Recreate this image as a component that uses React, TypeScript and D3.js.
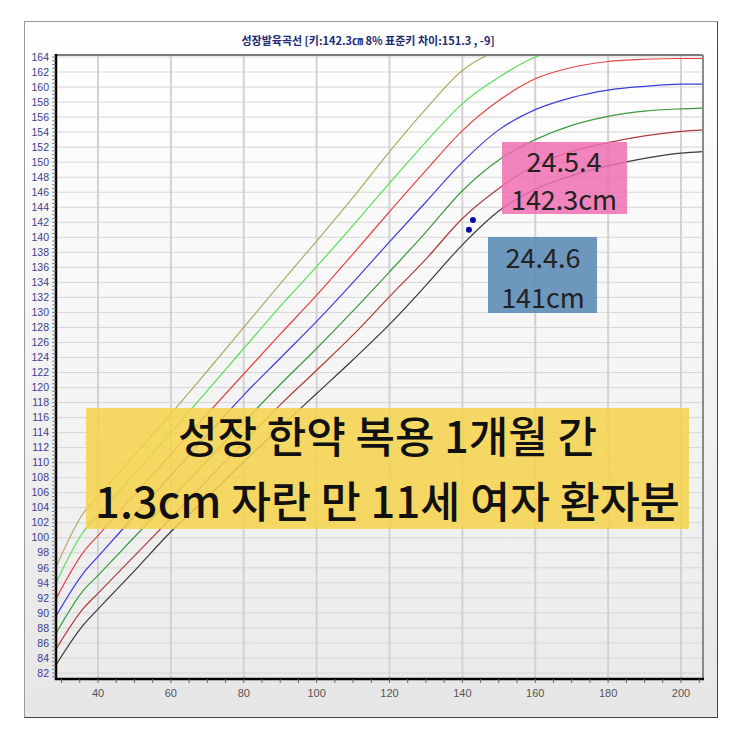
import React from "react";
import * as d3 from "d3";

// ---- data ----
const ages = [28.5, 36, 40, 50, 60, 70, 80, 90, 100, 110, 120, 130, 140, 150, 160, 170, 180, 190, 200, 206];
const p3 = [83.1, 88.4, 90.5, 95.6, 100.8, 105.4, 110.1, 114.7, 119.2, 123.7, 128.4, 133.6, 139.0, 143.5, 146.4, 148.2, 149.5, 150.5, 151.2, 151.4];
const p10 = [85.2, 90.6, 92.6, 97.6, 102.6, 107.7, 112.7, 117.7, 122.3, 127.0, 132.1, 137.1, 142.5, 146.5, 149.6, 151.4, 152.6, 153.5, 154.1, 154.3];
const p25 = [87.3, 93.0, 95.0, 100.1, 105.2, 110.3, 115.4, 120.4, 125.2, 130.2, 135.4, 140.7, 146.2, 150.3, 153.0, 154.9, 156.1, 156.8, 157.1, 157.2];
const p50 = [89.6, 95.3, 97.5, 102.9, 108.3, 113.7, 119.0, 123.9, 128.8, 134.0, 139.4, 144.7, 150.0, 154.3, 157.0, 158.6, 159.6, 160.1, 160.4, 160.4];
const p75 = [91.9, 98.1, 100.3, 105.7, 111.1, 116.5, 121.8, 127.1, 132.3, 137.8, 143.4, 148.9, 154.2, 158.2, 161.1, 162.6, 163.4, 163.7, 163.8, 163.8];
const p90 = [94.0, 100.8, 103.0, 108.5, 114.0, 119.6, 125.2, 130.8, 136.1, 141.6, 147.2, 152.7, 157.8, 161.3, 164.0, 165.2, null, null, null, null];
const p97 = [96.1, 103.3, 105.5, 111.0, 116.5, 122.2, 128.0, 133.8, 139.5, 145.3, 151.4, 157.1, 162.2, 164.9, 166.0, null, null, null, null, null];

const seriesList = [
  { name: "p3", values: p3, color: "#3a3a3a" },
  { name: "p10", values: p10, color: "#b03a3a" },
  { name: "p25", values: p25, color: "#3a9a3a" },
  { name: "p50", values: p50, color: "#3c3cdc" },
  { name: "p75", values: p75, color: "#e24444" },
  { name: "p90", values: p90, color: "#55e055" },
  { name: "p97", values: p97, color: "#b3a662" },
];

const measureAges = [141.8, 142.9];
const measureHeights = [141.0, 142.3];

const xTickLabels = [40, 60, 80, 100, 120, 140, 160, 180, 200];
const yTickLabels = d3.range(82, 165, 2);

const titleText = "성장발육곡선 [키:142.3㎝ 8% 표준키 차이:151.3 , -9]";
const bannerLines = ["성장 한약 복용 1개월 간", "1.3cm 자란 만 11세 여자 환자분"];
const pinkLines = ["24.5.4", "142.3cm"];
const blueLines = ["24.4.6", "141cm"];

export default function App() {
  const W = 743, H = 743;
  const x = d3.scaleLinear().domain([40, 200]).range([98, 681]);
  const y = d3.scaleLinear().domain([82, 164]).range([673, 57]);
  const plotL = 56, plotR = 703, plotT = 55, plotB = 679;
  const xMax = x.invert(plotR);
  const yMin = y.invert(plotB), yMax = y.invert(plotT);

  const line = d3
    .line<[number, number | null]>()
    .defined((d) => d[1] != null)
    .x((d) => x(d[0]))
    .y((d) => y(d[1] as number))
    .curve(d3.curveMonotoneX);

  const minorY = d3.range(Math.ceil(yMin * 2) / 2, yMax, 0.5);
  const minorX = d3.range(30, xMax, 5);
  const font = "'Liberation Sans', Arial, sans-serif";
  const kfont = "'Noto Sans CJK KR', 'Noto Sans', sans-serif";

  return (
    <div style={{ position: "absolute", left: 0, top: 0 }}>
      <svg width={W} height={H} style={{ display: "block", background: "#fff" }}>
        <defs>
          <linearGradient id="panelG" x1="0" y1="0" x2="0" y2="1">
            <stop offset="0" stopColor="#ffffff" />
            <stop offset="1" stopColor="#e6e6e6" />
          </linearGradient>
          <linearGradient id="plotG" x1="0" y1="0" x2="0" y2="1">
            <stop offset="0" stopColor="#ffffff" />
            <stop offset="1" stopColor="#ebebeb" />
          </linearGradient>
          <clipPath id="plotClip">
            <rect x={plotL} y={plotT} width={plotR - plotL} height={plotB - plotT} />
          </clipPath>
        </defs>
        {/* outer frame */}
        <rect x={24.5} y={21.5} width={693} height={696} fill="url(#panelG)" stroke="#9a9a9a" strokeWidth={1} />
        <line x1={717.5} y1={21.5} x2={717.5} y2={717.5} stroke="#444" />
        <line x1={24.5} y1={717.5} x2={717.5} y2={717.5} stroke="#444" />
        {/* plot background */}
        <rect x={plotL} y={plotT} width={plotR - plotL} height={plotB - plotT} fill="url(#plotG)" />
        {/* grid */}
        {yTickLabels.map((v) => (
          <line key={"gy" + v} x1={plotL} x2={plotR} y1={y(v)} y2={y(v)} stroke="#d6d6d6" strokeWidth={1} />
        ))}
        {xTickLabels.map((v) => (
          <line key={"gx" + v} x1={x(v)} x2={x(v)} y1={plotT} y2={plotB} stroke="#d2d2d2" strokeWidth={2} />
        ))}
        {/* curves */}
        <g clipPath="url(#plotClip)">
          {seriesList.map((s) => (
            <path
              key={s.name}
              d={line(ages.map((a, i) => [a, s.values[i]] as [number, number | null])) || ""}
              fill="none"
              stroke={s.color}
              strokeWidth={1.2}
            />
          ))}
        </g>
        {/* plot borders */}
        <line x1={plotL} x2={plotR} y1={plotT} y2={plotT} stroke="#7a7a7a" strokeWidth={2} />
        <line x1={plotR} x2={plotR} y1={plotT} y2={plotB} stroke="#8a8a8a" strokeWidth={2} />
        <line x1={plotL} x2={plotL} y1={plotT - 1} y2={plotB + 1} stroke="#000" strokeWidth={2.5} />
        <line x1={plotL - 1} x2={plotR + 1} y1={plotB} y2={plotB} stroke="#000" strokeWidth={2.5} />
        {/* y ticks */}
        {minorY.map((v) => (
          <line key={"my" + v} x1={plotL - 4} x2={plotL} y1={y(v)} y2={y(v)} stroke="#666" strokeWidth={0.8} />
        ))}
        {yTickLabels.map((v) => (
          <text key={"ly" + v} x={49} y={y(v)} dy="0.35em" textAnchor="end" fontFamily={font} fontSize={10.5} fill="#3d3d8f">
            {v}
          </text>
        ))}
        {/* x ticks */}
        {minorX.map((v) => (
          <line key={"mx" + v} x1={x(v)} x2={x(v)} y1={plotB} y2={plotB + 4} stroke="#666" strokeWidth={1} />
        ))}
        {xTickLabels.map((v) => (
          <text key={"lx" + v} x={x(v)} y={697} textAnchor="middle" fontFamily={font} fontSize={11} fill="#555">
            {v}
          </text>
        ))}
        {/* title */}
        <text x={368} y={45} textAnchor="middle" fontFamily={kfont} fontWeight="bold" fontSize={11} fill="#1e2a72">
          {titleText}
        </text>
        {/* measurements */}
        {measureAges.map((a, i) => (
          <circle key={"pt" + i} cx={x(a)} cy={y(measureHeights[i])} r={3} fill="#0a0aa8" />
        ))}
        {/* banner */}
        <rect x={86} y={408} width={603} height={121} fill="#f6d24a" fillOpacity={0.85} />
        <text x={387.5} y={453} textAnchor="middle" fontFamily={kfont} fontWeight={500} fontSize={43} fill="#111">
          {bannerLines[0]}
        </text>
        <text x={387.5} y={518} textAnchor="middle" fontFamily={kfont} fontWeight={500} fontSize={43.5} fill="#111">
          {bannerLines[1]}
        </text>
        {/* pink label */}
        <rect x={502} y={142} width={125} height={72} fill="#ef6fb0" fillOpacity={0.85} />
        <text x={564} y={172} textAnchor="middle" fontFamily={kfont} fontSize={27} fill="#222">{pinkLines[0]}</text>
        <text x={564} y={210} textAnchor="middle" fontFamily={kfont} fontSize={27} fill="#222">{pinkLines[1]}</text>
        {/* blue label */}
        <rect x={488} y={237} width={109} height={76} fill="#5d8cb6" fillOpacity={0.9} />
        <text x={543} y={268} textAnchor="middle" fontFamily={kfont} fontSize={27} fill="#222">{blueLines[0]}</text>
        <text x={543} y={308} textAnchor="middle" fontFamily={kfont} fontSize={27} fill="#222">{blueLines[1]}</text>
      </svg>
    </div>
  );
}
